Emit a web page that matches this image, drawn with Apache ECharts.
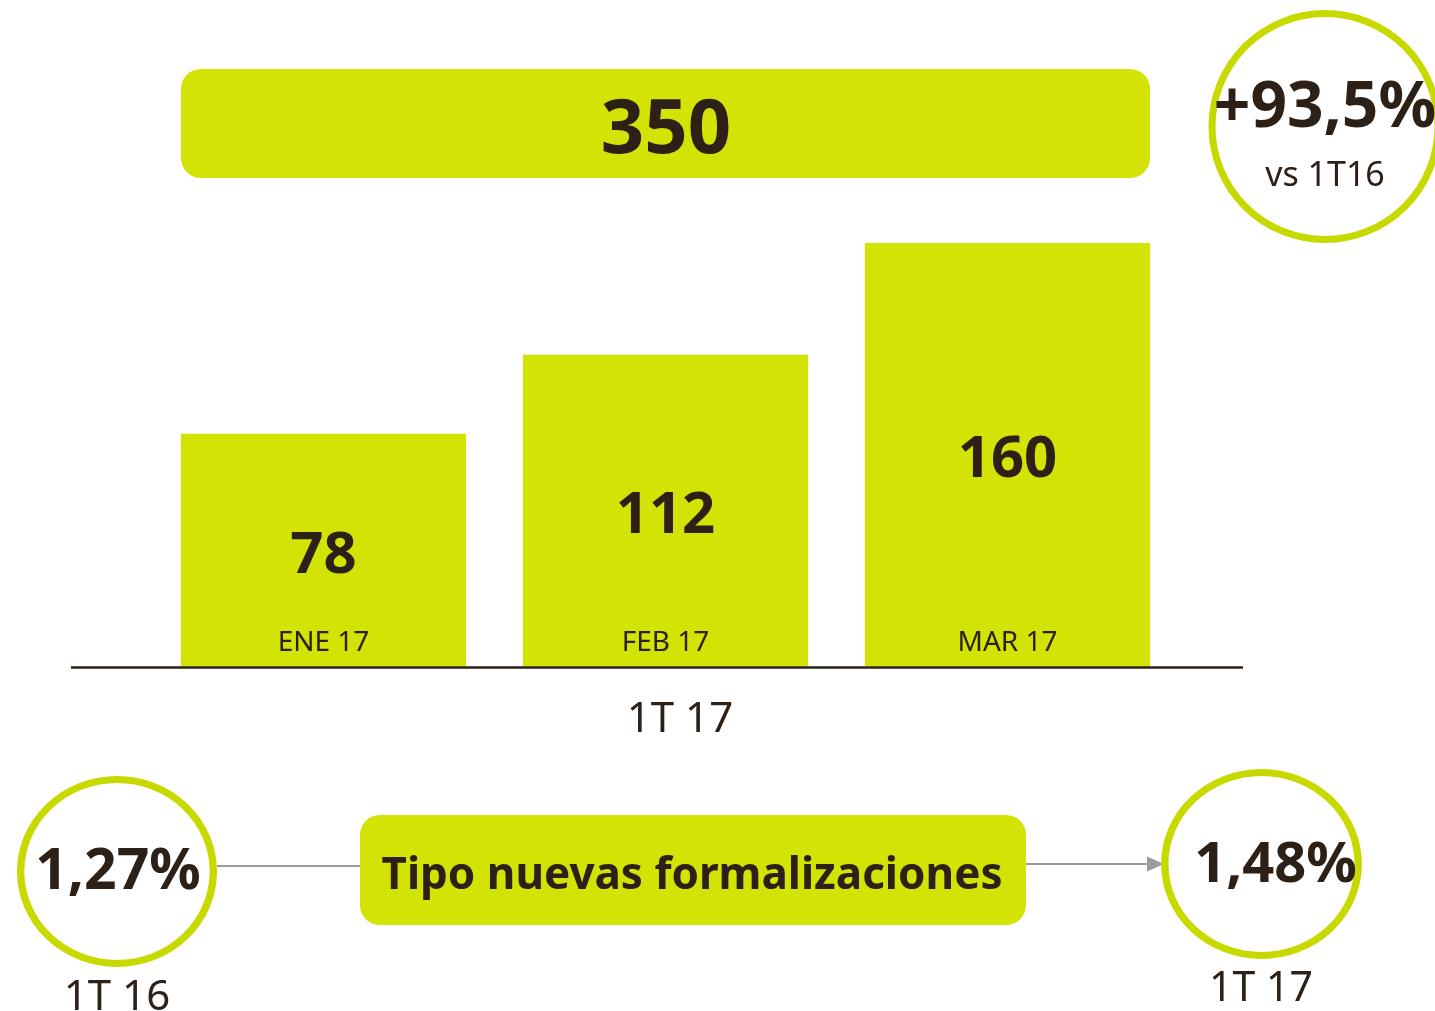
<!DOCTYPE html>
<html>
<head>
<meta charset="utf-8">
<script src="https://cdn.jsdelivr.net/npm/echarts@6/dist/echarts.min.js"></script>
<style>
html,body{margin:0;padding:0;background:#fff;}
#main{width:1435px;height:1011px;}
</style>
</head>
<body>
<div id="main"></div>
<script>
// ---- data ----
const categories = ['ENE 17', 'FEB 17', 'MAR 17'];
const values = [78, 112, 160];
const periodLabel = '1T 17';
const growthLabel = '+93,5%';
const growthSub = 'vs 1T16';
const rateLabel = 'Tipo nuevas formalizaciones';
const ratePrev = '1,27%';
const ratePrevPeriod = '1T 16';
const rateCurr = '1,48%';
const rateCurrPeriod = '1T 17';

const total = values.reduce((a, b) => a + b, 0);

// ---- styling ----
const LIME = '#d2e305';
const RING = '#c8d900';
const INK = '#2d2016';
const GRAY = '#9b9b9b';
const FONT = '"Noto Sans", sans-serif';
const Y_MIN = -22;

const chart = echarts.init(document.getElementById('main'), null, {renderer: 'canvas'});

function txt(text, x, y, size, weight, extra) {
  return Object.assign({
    type: 'text', x: x, y: y, z: 20,
    style: {text: text, fill: INK, fontFamily: FONT, fontSize: size, fontWeight: weight,
            align: 'center', verticalAlign: 'middle'}
  }, extra || {});
}

const option = {
  backgroundColor: '#ffffff',
  animation: false,
  grid: {left: 152.5, width: 1026, top: 243, bottom: 344.5},
  xAxis: {
    type: 'category', data: categories,
    axisLine: {show: false}, axisTick: {show: false},
    axisLabel: {margin: -37, fontFamily: FONT, fontSize: 28, color: INK, verticalAlign: 'top'},
    z: 10
  },
  yAxis: {type: 'value', min: Y_MIN, max: 160, show: false},
  series: [{
    type: 'custom',
    data: values.map((v, i) => [i, v]),
    encode: {x: 0, y: 1},
    z: 2,
    renderItem: function (params, api) {
      const i = api.value(0), v = api.value(1);
      const top = api.coord([i, v]);
      const base = api.coord([i, Y_MIN]);
      const w = api.size([1, 0])[0] * 0.834;
      return {
        type: 'group',
        children: [
          {type: 'rect', shape: {x: top[0] - w / 2, y: top[1], width: w, height: base[1] - top[1]},
           style: {fill: LIME}},
          {type: 'text', x: top[0], y: (top[1] + base[1]) / 2 + 6,
           style: {text: String(v), fill: INK, fontFamily: FONT, fontSize: 58, fontWeight: 'bold',
                   align: 'center', verticalAlign: 'middle'}}
        ]
      };
    }
  }],
  graphic: [
    // baseline
    {type: 'line', shape: {x1: 71, y1: 667.5, x2: 1243, y2: 667.5}, style: {stroke: INK, lineWidth: 2.5}, z: 15},
    // total box
    {type: 'rect', shape: {x: 181, y: 69, width: 969, height: 109, r: 20}, style: {fill: LIME}, z: 1},
    txt(String(total), 666, 131, 76, 'bold'),
    // period below axis
    txt(periodLabel, 680, 720, 42, 'normal'),
    // growth circle
    {type: 'circle', shape: {cx: 1325, cy: 126.5, r: 113}, style: {fill: 'none', stroke: RING, lineWidth: 7}, z: 5},
    txt(growthLabel, 1325, 109, 64, 'bold'),
    txt(growthSub, 1325, 176, 34, 'normal'),
    // rate connector lines
    {type: 'line', shape: {x1: 217, y1: 866, x2: 360, y2: 866}, style: {stroke: GRAY, lineWidth: 2}, z: 4},
    {type: 'line', shape: {x1: 1026, y1: 864, x2: 1150, y2: 864}, style: {stroke: GRAY, lineWidth: 2}, z: 4},
    {type: 'polygon', shape: {points: [[1147, 856.5], [1164, 864], [1147, 871.5]]}, style: {fill: GRAY}, z: 4},
    // rate box
    {type: 'rect', shape: {x: 360, y: 815, width: 666, height: 110, r: 20}, style: {fill: LIME}, z: 3},
    txt(rateLabel, 692, 876, 44, 'bold'),
    // left circle
    {type: 'circle', x: 117, y: 871.5, scaleX: 1.047, shape: {cx: 0, cy: 0, r: 92}, style: {fill: 'none', stroke: RING, lineWidth: 7}, z: 5},
    txt(ratePrev, 118, 873, 57, 'bold'),
    txt(ratePrevPeriod, 117, 998, 42, 'normal'),
    // right circle
    {type: 'circle', x: 1261.5, y: 864, scaleX: 1.057, shape: {cx: 0, cy: 0, r: 91.5}, style: {fill: 'none', stroke: RING, lineWidth: 7}, z: 5},
    txt(rateCurr, 1275.5, 866, 56, 'bold'),
    txt(rateCurrPeriod, 1261, 989, 41, 'normal')
  ]
};
chart.setOption(option);
</script>
</body>
</html>
